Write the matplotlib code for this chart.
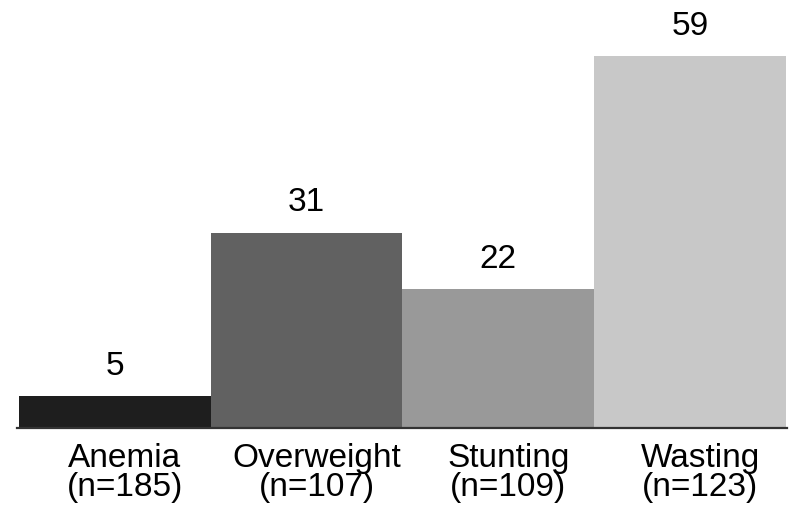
import matplotlib
matplotlib.use("Agg")
import matplotlib.pyplot as plt
from matplotlib.transforms import ScaledTranslation

categories = ["Anemia\n(n=185)", "Overweight\n(n=107)", "Stunting\n(n=109)", "Wasting\n(n=123)"]
values = [5, 31, 22, 59]
colors = ["#1e1e1e", "#616161", "#999999", "#c8c8c8"]

plt.rcParams['font.family'] = ['Liberation Sans', 'DejaVu Sans']

fig = plt.figure(figsize=(8, 5.24), dpi=100)
ax = fig.add_axes([17 / 800, 96 / 524, 770 / 800, 428 / 524])

x = range(len(values))
bars = ax.bar(x, values, width=1.0, color=colors, edgecolor="none")

for b, v in zip(bars, values):
    ax.annotate(str(v), (b.get_x() + b.get_width() / 2, v), xytext=(0, 10.5),
                textcoords="offset points", ha="center", va="bottom", fontsize=24)

ax.set_xlim(-0.51, 3.505)
ax.set_ylim(0, 67.9)
ax.set_xticks(list(x))
ax.set_xticklabels(categories, fontsize=24, linespacing=0.92)
ax.tick_params(axis="x", length=0, pad=11)
ax.set_yticks([])

for lab in ax.get_xticklabels():
    lab.set_transform(lab.get_transform() + ScaledTranslation(10 / 100, 0, fig.dpi_scale_trans))

for s in ["top", "right", "left"]:
    ax.spines[s].set_visible(False)
ax.spines["bottom"].set_color("#333333")
ax.spines["bottom"].set_linewidth(1.6)

fig.savefig("out.png", dpi=100)
